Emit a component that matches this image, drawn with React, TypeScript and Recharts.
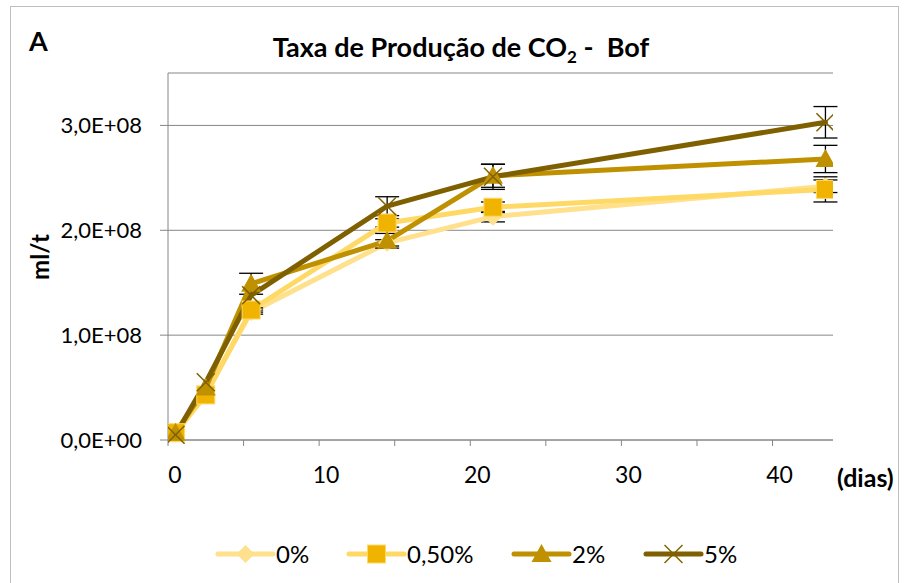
import React from 'react';
import { LineChart, Line, XAxis, YAxis, CartesianGrid, ErrorBar } from 'recharts';

// sampling days (as plotted)
const days = [0.5, 2.5, 5.5, 14.5, 21.5, 43.5];

// CO2 production, ml/t
const s0 = [6e6, 4.5e7, 1.22e8, 1.88e8, 2.13e8, 2.42e8];
const s050 = [7e6, 4.3e7, 1.24e8, 2.07e8, 2.22e8, 2.39e8];
const s2 = [7e6, 5.0e7, 1.49e8, 1.9e8, 2.52e8, 2.68e8];
const s5 = [5e6, 5.5e7, 1.38e8, 2.23e8, 2.51e8, 3.03e8];

// standard deviations (null = no bar)
const e0 = [null, null, 2e6, 3e6, 5e6, 6e6];
const e050 = [null, null, 2e6, 4e6, 5e6, 1.2e7];
const e2 = [null, null, 1.0e7, 7e6, 1.1e7, 1.3e7];
const e5 = [null, null, null, 9e6, 1.2e7, 1.5e7];

const seriesNames = ['0%', '0,50%', '2%', '5%'];
const yTicks = [0, 1e8, 2e8, 3e8];
const xTicks = [0, 5, 10, 15, 20, 25, 30, 35, 40];

const FONT = 'Lato, "Open Sans", sans-serif';

const data = days.map((d, i) => ({
  day: d,
  v0: s0[i],
  v050: s050[i],
  v2: s2[i],
  v5: s5[i],
  e0: e0[i],
  e050: e050[i],
  e2: e2[i],
  e5: e5[i],
}));

type Marker = 'diamond' | 'square' | 'triangle' | 'x';

const series: { key: string; err: string; color: string; fill: string; marker: Marker }[] = [
  { key: 'v0', err: 'e0', color: '#FFE08C', fill: '#FFE08C', marker: 'diamond' },
  { key: 'v050', err: 'e050', color: '#FFD966', fill: '#F0B400', marker: 'square' },
  { key: 'v2', err: 'e2', color: '#BF9000', fill: '#BF9000', marker: 'triangle' },
  { key: 'v5', err: 'e5', color: '#7F6000', fill: '#7F6000', marker: 'x' },
];

// legend item positions (line start x)
const legendLeft = [218, 349, 514, 646];

function drawMarker(marker: Marker, cx: number, cy: number, color: string, fill: string, key?: any) {
  if (marker === 'diamond') {
    return <polygon key={key} points={`${cx},${cy - 9} ${cx + 9},${cy} ${cx},${cy + 9} ${cx - 9},${cy}`} fill={fill} />;
  }
  if (marker === 'square') {
    return <rect key={key} x={cx - 9} y={cy - 9} width={18} height={18} fill={fill} stroke={color} strokeWidth={1} />;
  }
  if (marker === 'triangle') {
    return <polygon key={key} points={`${cx},${cy - 10} ${cx + 10},${cy + 8} ${cx - 10},${cy + 8}`} fill={fill} />;
  }
  return (
    <g key={key} stroke={color} strokeWidth={1.5}>
      <line x1={cx - 9} y1={cy - 9} x2={cx + 9} y2={cy + 9} />
      <line x1={cx - 9} y1={cy + 9} x2={cx + 9} y2={cy - 9} />
    </g>
  );
}

const fmtY = (v: number) => {
  if (v === 0) return '0,0E+00';
  return (v / 1e8).toFixed(1).replace('.', ',') + 'E+08';
};

const XTick = (props: any) => {
  const { x, y, payload } = props;
  if (payload.value % 10 !== 0) return null;
  return (
    <text x={x + 7} y={y + 35} textAnchor="middle" fontSize={23} fontFamily={FONT} fill="#000">
      {payload.value}
    </text>
  );
};

export default function App() {
  return (
    <div style={{ position: 'absolute', left: 0, top: 0, width: 908, height: 583, background: '#fff', overflow: 'hidden', fontFamily: FONT }}>
      <div style={{ position: 'absolute', left: 10, top: 6, width: 887, height: 600, border: '1px solid #BFBFBF' }} />
      <div style={{ position: 'absolute', left: 29, top: 25, fontSize: 27, fontWeight: 700, lineHeight: '32px' }}>A</div>
      <div style={{ position: 'absolute', left: 0, width: 922, top: 31, textAlign: 'center', fontSize: 27, fontWeight: 700, lineHeight: '32px' }}>
        Taxa de Produção de CO<sub style={{ fontSize: 17, lineHeight: 0 }}>2</sub> -&nbsp; Bof
      </div>
      <div
        style={{ position: 'absolute', left: 40, top: 257, transform: 'translate(-50%, -50%) rotate(-90deg)', fontSize: 24, fontWeight: 700, lineHeight: '28px' }}
      >
        ml/t
      </div>
      <div style={{ position: 'absolute', left: 837, top: 462, fontSize: 25, fontWeight: 700, lineHeight: '30px' }}>(dias)</div>

      <LineChart width={908} height={583} data={data} margin={{ top: 73, right: 75, bottom: 103, left: 68 }} style={{ position: 'absolute', left: 0, top: 0 }}>
        <CartesianGrid vertical={false} stroke="#868686" strokeWidth={1} />
        <XAxis
          dataKey="day"
          type="number"
          domain={[0, 44]}
          ticks={xTicks}
          interval={0}
          tick={<XTick />}
          tickSize={6}
          height={40}
          axisLine={{ stroke: '#868686' }}
          tickLine={{ stroke: '#868686' }}
          allowDataOverflow
        />
        <YAxis
          type="number"
          domain={[0, 3.5e8]}
          ticks={yTicks}
          width={100}
          tickSize={8}
          tickMargin={18}
          tickFormatter={fmtY}
          tick={{ fontSize: 22, fontFamily: FONT, fill: '#000' }}
          axisLine={{ stroke: '#868686' }}
          tickLine={{ stroke: '#868686' }}
        />
        {series.map((s) => (
          <Line
            key={s.key}
            dataKey={s.key}
            type="linear"
            stroke={s.color}
            strokeWidth={5}
            strokeLinejoin="round"
            strokeLinecap="round"
            isAnimationActive={false}
            activeDot={false}
            dot={(p: any) => drawMarker(s.marker, p.cx, p.cy, s.color, s.fill, `${s.key}-${p.index}`)}
          >
            <ErrorBar dataKey={s.err} direction="y" width={12} stroke="#000" strokeWidth={1.3} isAnimationActive={false} />
          </Line>
        ))}
      </LineChart>

      {series.map((s, i) => (
        <div key={s.key} style={{ position: 'absolute', left: legendLeft[i] - 3, top: 539, display: 'flex', alignItems: 'center', fontSize: 24, lineHeight: '30px' }}>
          <svg width={61} height={30} style={{ display: 'block' }}>
            <line x1={3} y1={15} x2={58} y2={15} stroke={s.color} strokeWidth={5} strokeLinecap="round" />
            {drawMarker(s.marker, 30.5, 15, s.color, s.fill)}
          </svg>
          <span>{seriesNames[i]}</span>
        </div>
      ))}
    </div>
  );
}
